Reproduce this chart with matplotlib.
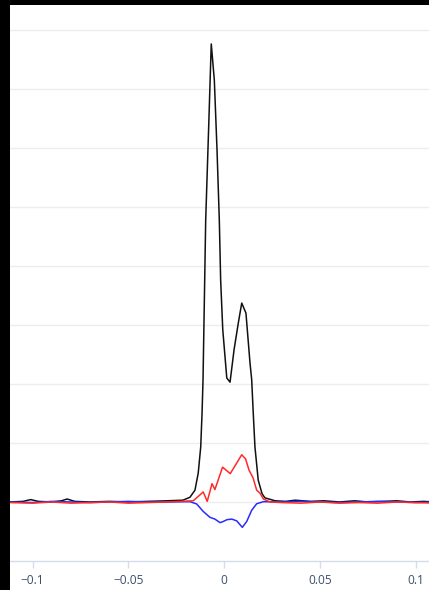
import numpy as np
import matplotlib.pyplot as plt
from matplotlib.patches import Rectangle

# total signal
x_total = [-0.112, -0.105, -0.101, -0.097, -0.090, -0.085, -0.082, -0.078, -0.070,
           -0.060, -0.050, -0.040, -0.030, -0.0216, -0.0179, -0.0153, -0.0136,
           -0.0123, -0.0116, -0.0111, -0.0097, -0.0082, -0.0068, -0.0052, -0.0038,
           -0.0026, -0.0019, -0.0008, 0.0013, 0.0030, 0.0051, 0.0073, 0.0091,
           0.0113, 0.0134, 0.0143, 0.0151, 0.0160, 0.0177, 0.0197, 0.0212, 0.0265,
           0.032, 0.037, 0.045, 0.052, 0.060, 0.068, 0.075, 0.083, 0.090, 0.097,
           0.104, 0.110]
y_total = [0.00, 0.01, 0.04, 0.01, 0.00, 0.02, 0.05, 0.01, 0.00,
           0.01, 0.00, 0.01, 0.02, 0.03, 0.08, 0.20, 0.49,
           0.93, 1.51, 2.07, 4.78, 6.30, 7.76, 7.15, 5.97,
           4.78, 3.76, 2.92, 2.10, 2.03, 2.58, 3.03, 3.37,
           3.20, 2.36, 2.07, 1.51, 0.93, 0.37, 0.14, 0.07, 0.02,
           0.01, 0.03, 0.01, 0.02, 0.00, 0.02, 0.00, 0.01, 0.02, 0.00,
           0.01, 0.00]

# positive part
x_pos = [-0.112, -0.100, -0.090, -0.080, -0.070, -0.060, -0.050, -0.040, -0.030,
         -0.0162, -0.0127, -0.0110, -0.0089, -0.0064, -0.0049, -0.0009, 0.0031,
         0.0061, 0.0091, 0.0111, 0.0129, 0.0150, 0.0169, 0.0186, 0.0204, 0.0239,
         0.030, 0.040, 0.050, 0.060, 0.070, 0.080, 0.090, 0.100, 0.110]
y_pos = [-0.01, -0.02, 0.00, -0.02, -0.01, 0.00, -0.02, -0.01, 0.00,
         0.02, 0.12, 0.17, 0.01, 0.31, 0.21, 0.59, 0.48,
         0.64, 0.80, 0.73, 0.54, 0.41, 0.20, 0.15, 0.05, 0.00,
         -0.01, -0.02, 0.00, -0.02, -0.01, -0.02, 0.00, -0.01, -0.02]

# negative part
x_neg = [-0.112, -0.100, -0.090, -0.080, -0.070, -0.060, -0.050, -0.040, -0.030,
         -0.0179, -0.0144, -0.0110, -0.0075, -0.0049, -0.0022, -0.0005, 0.0014,
         0.0039, 0.0065, 0.0094, 0.0117, 0.0143, 0.0169, 0.0204,
         0.030, 0.040, 0.050, 0.060, 0.070, 0.080, 0.090, 0.100, 0.110]
y_neg = [0.00, -0.01, 0.01, 0.00, -0.01, 0.00, 0.01, 0.00, 0.00,
         0.005, -0.034, -0.16, -0.26, -0.29, -0.35, -0.33, -0.30,
         -0.29, -0.32, -0.43, -0.33, -0.14, -0.03, 0.005,
         0.00, 0.01, 0.00, -0.01, 0.00, 0.01, 0.00, -0.01, 0.00]

grid_levels = list(range(0, 9))
xticks = [-0.1, -0.05, 0, 0.05, 0.1]

fig = plt.figure(figsize=(4.29, 5.90), dpi=100, facecolor='white')
# dark frame strips along the top and left edge
fig.patches.append(Rectangle((0, 0), 10 / 429, 1, transform=fig.transFigure,
                             facecolor='black', zorder=0))
fig.patches.append(Rectangle((0, 585 / 590), 1, 5 / 590, transform=fig.transFigure,
                             facecolor='black', zorder=0))

ax = fig.add_axes([10 / 429, 29 / 590, 419 / 429, 556 / 590])
ax.set_facecolor('white')

for g in grid_levels:
    ax.axhline(g, color='#ededed', lw=1.0, zorder=1)

ax.plot(x_total, y_total, color='#111111', lw=1.1, zorder=3)
ax.plot(x_neg, y_neg, color='#2a2aff', lw=1.1, zorder=4)
ax.plot(x_pos, y_pos, color='#ff2a2a', lw=1.1, zorder=5)

ax.set_xlim(-0.1118, 0.1068)
ax.set_ylim(-1.0, 8.42)

for s in ['top', 'left', 'right']:
    ax.spines[s].set_visible(False)
ax.spines['bottom'].set_color('#d5dcec')
ax.spines['bottom'].set_linewidth(1.0)

ax.set_yticks([])
ax.set_xticks(xticks)
ax.set_xticklabels(['\u22120.1', '\u22120.05', '0', '0.05', '0.1'])
ax.tick_params(axis='x', colors='#d5dcec', length=5, width=1, pad=4,
               labelcolor='#3d4f6e', labelsize=8.6)
for lbl in ax.get_xticklabels():
    lbl.set_fontfamily('Open Sans')

fig.savefig('out.png', dpi=100, facecolor='white')
